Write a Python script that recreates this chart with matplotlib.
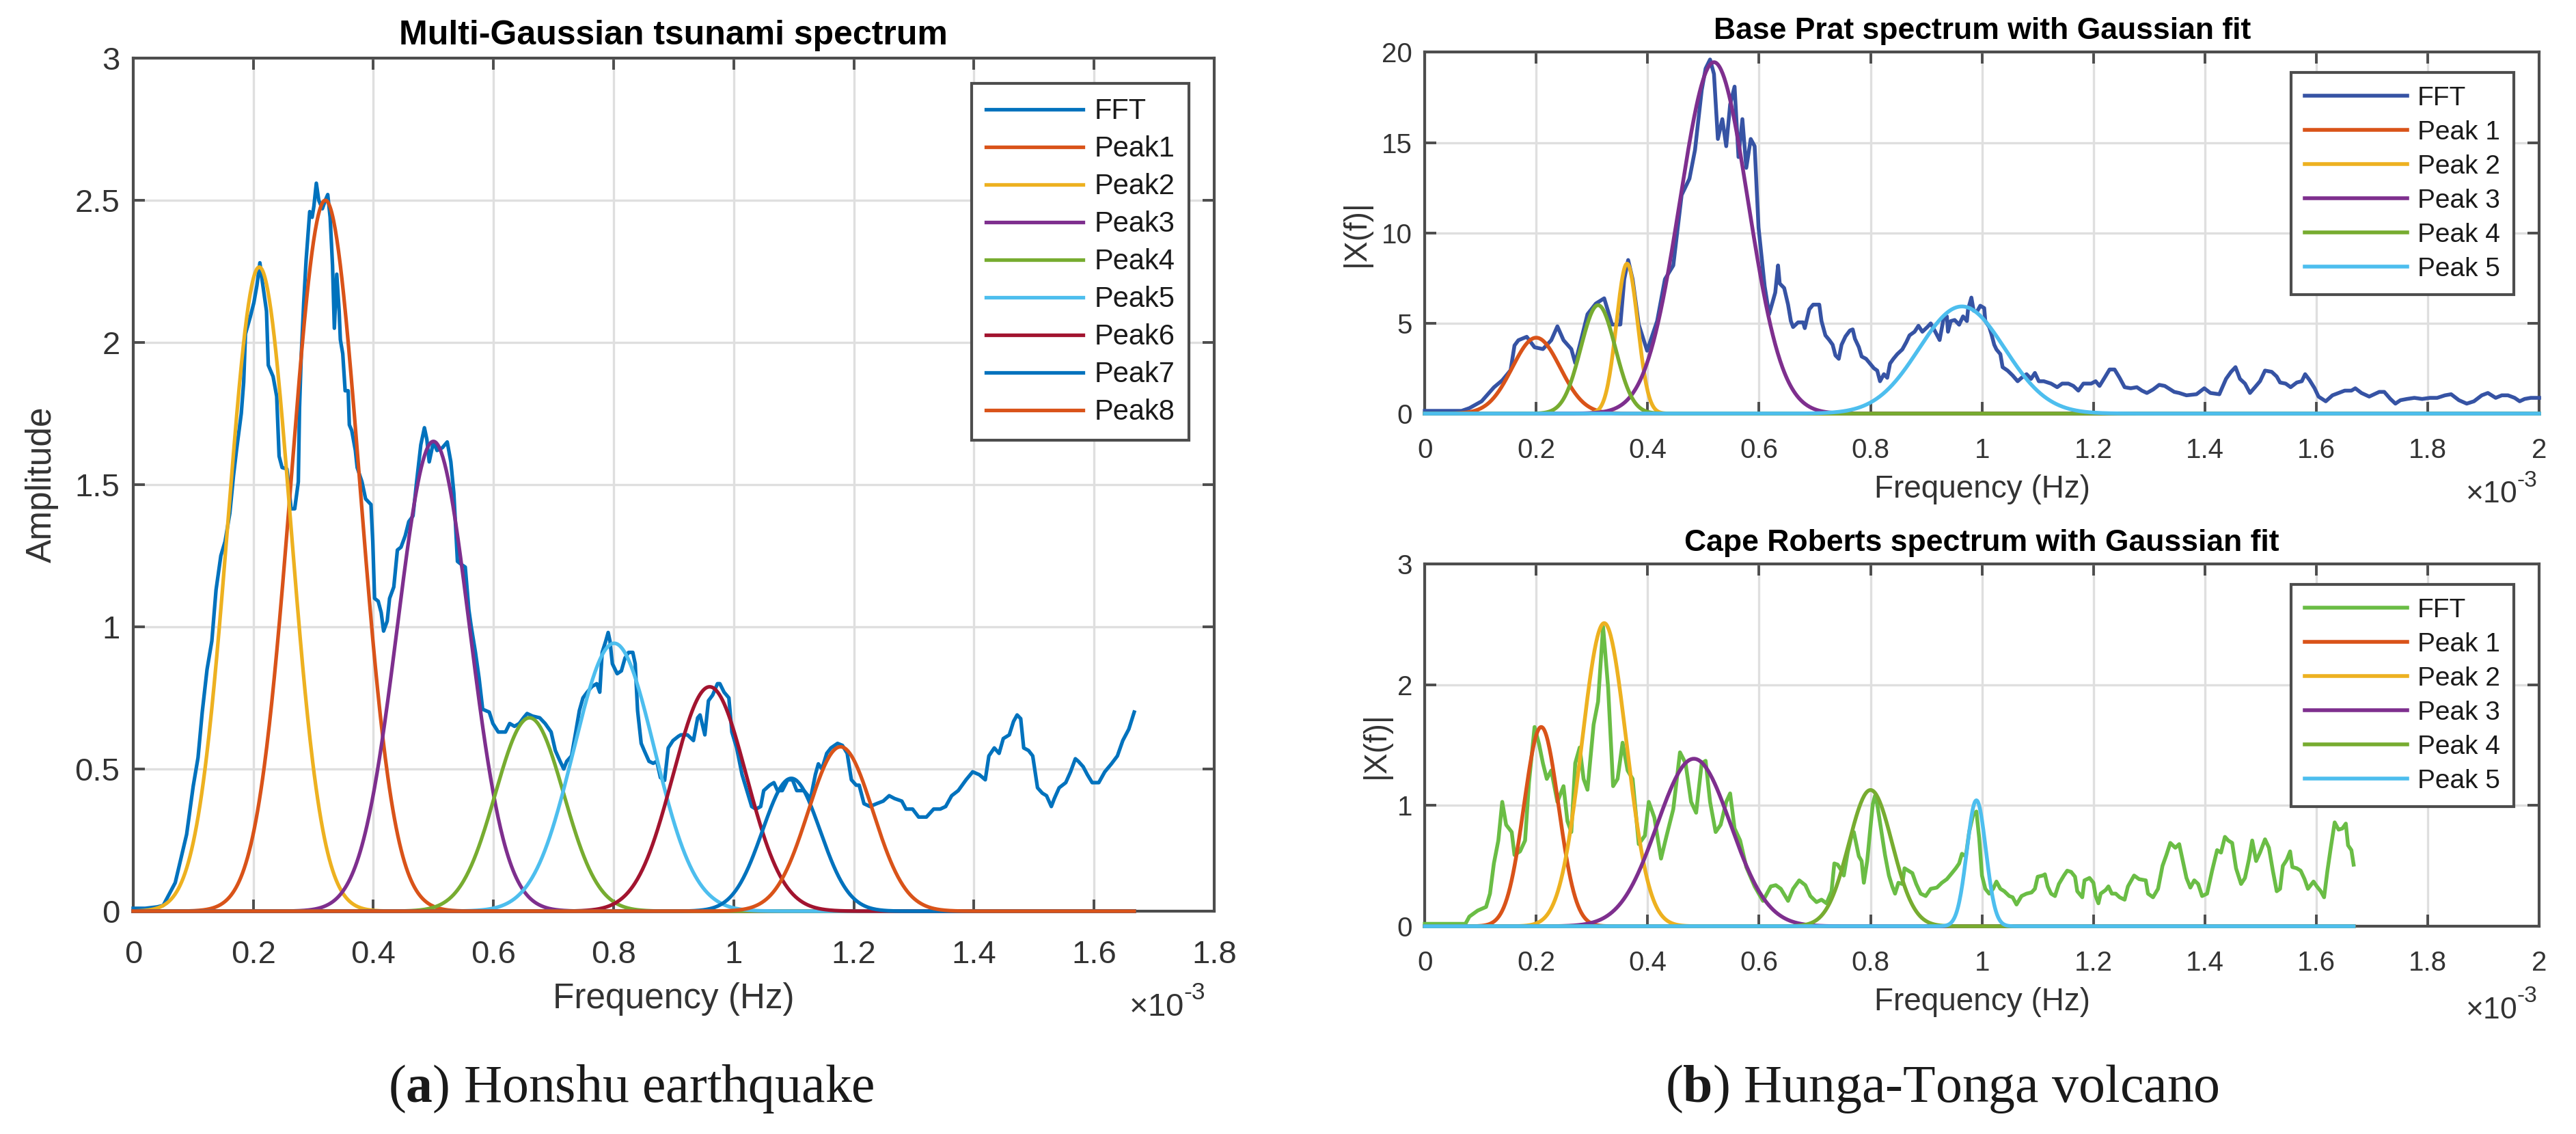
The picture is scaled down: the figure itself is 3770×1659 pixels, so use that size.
import numpy as np
import matplotlib
matplotlib.use('Agg')
import matplotlib.pyplot as plt
from matplotlib.ticker import FuncFormatter

plt.rcParams['font.family'] = ['Liberation Sans', 'DejaVu Sans']
plt.rcParams['mathtext.fontset'] = 'custom'
plt.rcParams['mathtext.rm'] = 'Liberation Sans'
plt.rcParams['mathtext.bf'] = 'Liberation Serif:bold'

# ---- (a) Honshu earthquake: FFT amplitude, frequency in 1e-3 Hz ----
honshu_f = [0.0, 0.02, 0.04, 0.05, 0.07, 0.089, 0.100, 0.108, 0.115, 0.123, 0.131, 0.138, 0.146, 0.153,
            0.161, 0.167, 0.172, 0.180, 0.184, 0.187, 0.195, 0.201, 0.206, 0.211, 0.214, 0.222, 0.225,
            0.233, 0.239, 0.243, 0.248, 0.256, 0.263, 0.269, 0.275, 0.277, 0.280, 0.284, 0.288, 0.294,
            0.298, 0.301, 0.305, 0.309, 0.315, 0.320, 0.324, 0.328, 0.332, 0.335, 0.339, 0.343, 0.345,
            0.349, 0.353, 0.358, 0.360, 0.364, 0.370, 0.373, 0.381, 0.387, 0.396, 0.399, 0.402, 0.408,
            0.413, 0.417, 0.423, 0.427, 0.434, 0.440, 0.446, 0.453, 0.459, 0.466, 0.472,
            0.479, 0.485, 0.489, 0.493, 0.500, 0.506, 0.515, 0.523, 0.529, 0.534, 0.540, 0.546, 0.553,
            0.559, 0.563, 0.570, 0.576, 0.582, 0.593, 0.599, 0.608, 0.620, 0.627, 0.635, 0.643, 0.650,
            0.656, 0.665, 0.677, 0.686, 0.696, 0.703, 0.711, 0.717, 0.722, 0.730, 0.737, 0.743, 0.749,
            0.756, 0.764, 0.772, 0.777, 0.781, 0.787, 0.791, 0.794, 0.798, 0.806, 0.813, 0.819, 0.825,
            0.832, 0.836, 0.840, 0.846, 0.851, 0.859, 0.866, 0.872, 0.878, 0.885, 0.891, 0.899, 0.908,
            0.912, 0.923, 0.933, 0.940, 0.944, 0.952, 0.958, 0.965, 0.973, 0.977, 0.984, 0.992, 0.997,
            1.005, 1.014, 1.022, 1.030, 1.037, 1.045, 1.050, 1.060, 1.067, 1.073, 1.081, 1.090, 1.098,
            1.105, 1.117, 1.128, 1.136, 1.141, 1.147, 1.155, 1.162, 1.173, 1.181, 1.189, 1.196, 1.204,
            1.209, 1.217, 1.227, 1.238, 1.249, 1.259, 1.268, 1.280, 1.287, 1.298, 1.308, 1.321, 1.333,
            1.344, 1.353, 1.363, 1.374, 1.387, 1.398, 1.409, 1.419, 1.425, 1.434, 1.442, 1.449, 1.459,
            1.466, 1.472, 1.478, 1.483, 1.491, 1.498, 1.506, 1.514, 1.521, 1.529, 1.534, 1.542, 1.553,
            1.561, 1.569, 1.574, 1.582, 1.589, 1.597, 1.608, 1.618, 1.629, 1.639, 1.648, 1.658, 1.667]
honshu_amp = [0.01, 0.01, 0.015, 0.02, 0.10, 0.27, 0.44, 0.54, 0.70, 0.85, 0.95, 1.13, 1.25, 1.30,
              1.40, 1.53, 1.62, 1.75, 1.86, 2.03, 2.09, 2.14, 2.20, 2.28, 2.23, 2.11, 1.92,
              1.88, 1.81, 1.60, 1.56, 1.555, 1.415, 1.415, 1.51, 1.77, 1.96, 2.14, 2.29, 2.46,
              2.44, 2.48, 2.56, 2.50, 2.47, 2.50, 2.52, 2.44, 2.27, 2.05, 2.24, 2.11, 2.01,
              1.96, 1.83, 1.83, 1.71, 1.69, 1.62, 1.56, 1.51, 1.45, 1.43, 1.30, 1.10, 1.09,
              1.05, 0.985, 1.02, 1.10, 1.14, 1.27, 1.28, 1.32, 1.37, 1.39, 1.51,
              1.64, 1.70, 1.66, 1.58, 1.65, 1.62, 1.63, 1.65, 1.58, 1.47, 1.23, 1.22, 1.21,
              1.06, 1.00, 0.91, 0.82, 0.71, 0.70, 0.66, 0.63, 0.63, 0.66, 0.65, 0.66, 0.68,
              0.695, 0.686, 0.68, 0.66, 0.63, 0.565, 0.527, 0.50, 0.527, 0.546, 0.63, 0.705, 0.75,
              0.77, 0.79, 0.80, 0.77, 0.91, 0.95, 0.98, 0.95, 0.87, 0.835, 0.845, 0.89, 0.91,
              0.91, 0.87, 0.705, 0.59, 0.565, 0.527, 0.52, 0.527, 0.47, 0.46, 0.574, 0.60, 0.615,
              0.62, 0.62, 0.60, 0.68, 0.69, 0.62, 0.74, 0.76, 0.80, 0.80, 0.77, 0.75, 0.63,
              0.574, 0.48, 0.424, 0.368, 0.359, 0.368, 0.424, 0.443, 0.452, 0.424, 0.424, 0.462, 0.462,
              0.424, 0.424, 0.396, 0.48, 0.518, 0.50, 0.555, 0.574, 0.59, 0.583, 0.555, 0.462, 0.443,
              0.443, 0.378, 0.368, 0.378, 0.387, 0.406, 0.396, 0.387, 0.359, 0.359, 0.331, 0.331, 0.359,
              0.359, 0.368, 0.406, 0.424, 0.462, 0.49, 0.48, 0.462, 0.546, 0.574, 0.555, 0.607, 0.62,
              0.667, 0.69, 0.677, 0.574, 0.565, 0.546, 0.434, 0.415, 0.406, 0.368, 0.396, 0.434, 0.452,
              0.49, 0.536, 0.527, 0.508, 0.48, 0.452, 0.452, 0.49, 0.518, 0.546, 0.60, 0.64, 0.70]
# Gaussian fit parameters (amplitude, centre [1e-3 Hz], sigma [1e-3 Hz]) for Peak1..Peak8
honshu_peak_amp = [2.50, 2.265, 1.652, 0.680, 0.942, 0.789, 0.467, 0.578]
honshu_peak_ctr = [0.320, 0.210, 0.500, 0.660, 0.801, 0.960, 1.096, 1.178]
honshu_peak_sig = [0.057, 0.052, 0.060, 0.057, 0.067, 0.061, 0.048, 0.054]

# ---- (b) Hunga-Tonga: Base Prat ----
prat_f = [0.0, 0.066, 0.08, 0.102, 0.124, 0.139, 0.154, 0.161, 0.168, 0.183, 0.197, 0.212, 0.227, 0.238,
          0.249, 0.263, 0.270, 0.278, 0.292, 0.307, 0.322, 0.336, 0.351, 0.358, 0.365, 0.373, 0.384,
          0.399, 0.417, 0.431, 0.446, 0.461, 0.475, 0.485, 0.497, 0.504, 0.512, 0.519, 0.526, 0.534,
          0.541, 0.548, 0.556, 0.563, 0.570, 0.577, 0.585, 0.592, 0.599, 0.610, 0.618, 0.629,
          0.634, 0.637, 0.645, 0.652, 0.657, 0.661, 0.670, 0.679, 0.682, 0.690, 0.697, 0.708, 0.712,
          0.719, 0.726, 0.732, 0.737, 0.743, 0.748, 0.755, 0.763, 0.768, 0.772, 0.779, 0.784, 0.792,
          0.799, 0.806, 0.812, 0.817, 0.824, 0.830, 0.835, 0.841, 0.848, 0.857, 0.864, 0.870, 0.879,
          0.886, 0.893, 0.902, 0.908, 0.915, 0.924, 0.931, 0.937, 0.939, 0.944, 0.951, 0.959, 0.966,
          0.973, 0.975, 0.981, 0.985, 0.991, 0.997, 1.004, 1.006, 1.013, 1.017, 1.022, 1.026, 1.033,
          1.037, 1.046, 1.055, 1.064, 1.071, 1.080, 1.088, 1.095, 1.102, 1.111, 1.124, 1.135, 1.144,
          1.155, 1.164, 1.173, 1.182, 1.196, 1.204, 1.211, 1.220, 1.229, 1.238, 1.247, 1.256, 1.267,
          1.278, 1.287, 1.296, 1.307, 1.318, 1.328, 1.345, 1.354, 1.367, 1.385, 1.399, 1.410, 1.426,
          1.438, 1.447, 1.455, 1.463, 1.472, 1.481, 1.490, 1.499, 1.508, 1.520, 1.529, 1.535, 1.545,
          1.554, 1.565, 1.574, 1.580, 1.588, 1.597, 1.604, 1.617, 1.629, 1.640, 1.651, 1.663, 1.670,
          1.681, 1.695, 1.704, 1.713, 1.722, 1.733, 1.742, 1.751, 1.763, 1.776, 1.790, 1.804, 1.817,
          1.831, 1.842, 1.856, 1.870, 1.883, 1.897, 1.908, 1.922, 1.933, 1.944, 1.956, 1.965, 1.974,
          1.985, 2.0]
prat_amp = [0.15, 0.15, 0.3, 0.68, 1.45, 1.84, 2.4, 3.77, 4.06, 4.25, 3.67, 3.57, 4.06, 4.83,
            4.06, 3.57, 2.8, 3.77, 5.5, 6.09, 6.38, 4.93, 4.93, 7.44, 8.5, 7.44, 4.93,
            3.48, 5.12, 7.44, 8.2, 12.1, 13.0, 14.6, 17.9, 19.1, 19.6, 18.8, 15.2, 16.3,
            14.8, 17.1, 18.1, 14.2, 16.3, 13.6, 15.2, 14.8, 10.3, 7.05, 5.5, 6.7,
            8.2, 7.2, 6.95, 6.03, 5.12, 4.79, 5.05, 5.05, 4.73, 5.77, 6.03, 6.03, 5.12,
            4.33, 4.07, 3.81, 3.22, 3.03, 3.81, 4.27, 4.6, 4.66, 4.14, 3.68, 3.16, 3.03,
            2.77, 2.51, 2.38, 1.79, 2.18, 1.98, 2.77, 3.03, 3.29, 3.55, 3.94, 4.33, 4.53,
            4.86, 4.53, 4.79, 4.99, 4.6, 4.07, 5.25, 5.38, 4.53, 5.12, 5.18, 4.92, 5.38,
            5.12, 5.77, 6.42, 5.7, 5.64, 5.97, 5.84, 5.12, 4.79, 4.4, 3.81, 3.55, 3.29,
            2.57, 2.38, 2.11, 1.79, 1.98, 2.18, 1.92, 2.25, 1.79, 1.79, 1.66, 1.46, 1.66,
            1.66, 1.53, 1.27, 1.66, 1.66, 1.79, 1.53, 1.98, 2.44, 2.44, 1.98, 1.46, 1.40,
            1.46, 1.27, 1.14, 1.33, 1.59, 1.53, 1.20, 1.14, 1.01, 1.07, 1.40, 1.14, 1.07,
            1.92, 2.31, 2.57, 1.92, 1.66, 1.14, 1.46, 1.79, 2.38, 2.31, 2.05, 1.72, 1.66,
            1.46, 1.72, 1.79, 2.18, 1.85, 1.40, 0.94, 0.68, 1.01, 1.14, 1.27, 1.27, 1.40,
            1.14, 0.94, 1.07, 1.20, 1.20, 0.81, 0.55, 0.74, 0.81, 0.87, 0.81, 0.87, 0.87,
            1.01, 1.07, 0.74, 0.55, 0.68, 1.01, 1.14, 0.87, 1.01, 1.01, 0.87, 0.68, 0.81,
            0.87, 0.87]
prat_peak_amp = [4.2, 8.3, 19.45, 6.0, 5.93]
prat_peak_ctr = [0.200, 0.363, 0.519, 0.311, 0.964]
prat_peak_sig = [0.043, 0.019, 0.061, 0.031, 0.077]

# ---- (b) Hunga-Tonga: Cape Roberts ----
roberts_f = [0.0, 0.073, 0.08, 0.095, 0.11, 0.117, 0.124, 0.132, 0.139, 0.146, 0.156, 0.161, 0.171, 0.180,
             0.187, 0.197, 0.205, 0.212, 0.219, 0.227, 0.238, 0.249, 0.256, 0.263, 0.270, 0.278, 0.285,
             0.292, 0.303, 0.311, 0.320, 0.329, 0.338, 0.346, 0.355, 0.364, 0.373, 0.384, 0.395, 0.402,
             0.412, 0.424, 0.434, 0.446, 0.458, 0.468, 0.478, 0.487, 0.497, 0.504, 0.512, 0.522, 0.531,
             0.541, 0.548, 0.556, 0.566, 0.577, 0.592, 0.607, 0.621,
             0.630, 0.639, 0.648, 0.652, 0.661, 0.672, 0.683, 0.692, 0.703, 0.712, 0.721, 0.730, 0.735,
             0.741, 0.748, 0.752, 0.759, 0.766, 0.770, 0.775, 0.779, 0.784, 0.788, 0.794, 0.799, 0.804,
             0.808, 0.812, 0.819, 0.826, 0.833, 0.839, 0.844, 0.850, 0.857, 0.861, 0.868, 0.875, 0.882,
             0.890, 0.899, 0.908, 0.919, 0.928, 0.937, 0.946, 0.953, 0.959, 0.964, 0.971, 0.977, 0.984,
             0.990, 0.995, 1.000, 1.006, 1.013, 1.020, 1.026, 1.033, 1.040, 1.049, 1.055, 1.062, 1.071,
             1.080, 1.089, 1.095, 1.100, 1.109, 1.113, 1.118, 1.124, 1.131, 1.138, 1.147, 1.153, 1.160,
             1.167, 1.171, 1.180, 1.184, 1.193, 1.200, 1.204, 1.209, 1.213, 1.222, 1.227, 1.233, 1.240,
             1.247, 1.256, 1.262, 1.273, 1.282, 1.294, 1.298, 1.307, 1.316,
             1.324, 1.331, 1.338, 1.347, 1.354, 1.360, 1.367, 1.374, 1.381, 1.388, 1.395, 1.404, 1.413,
             1.422, 1.429, 1.436, 1.442, 1.449, 1.456, 1.465, 1.472, 1.479, 1.485, 1.492, 1.499, 1.508,
             1.515, 1.522, 1.529, 1.535, 1.540, 1.547, 1.553, 1.557, 1.565, 1.572, 1.579, 1.585, 1.595,
             1.601, 1.608, 1.614, 1.620, 1.626, 1.633, 1.640, 1.647, 1.653, 1.657, 1.663, 1.667]
roberts_amp = [0.02, 0.02, 0.08, 0.13, 0.16, 0.27, 0.52, 0.71, 1.03, 0.84, 0.78, 0.59, 0.62, 0.71,
               1.19, 1.65, 1.51, 1.35, 1.22, 1.29, 1.03, 1.16, 0.87, 0.78, 1.35, 1.48, 1.22,
               1.13, 1.67, 1.86, 2.48, 1.98, 1.16, 1.22, 1.52, 1.29, 1.22, 0.68, 0.75, 1.03,
               0.90, 0.56, 0.75, 0.97, 1.44, 1.35, 1.03, 0.94, 1.35, 1.37, 1.03, 0.78, 0.84,
               1.03, 1.10, 0.81, 0.71, 0.49, 0.33, 0.21, 0.33,
               0.34, 0.31, 0.24, 0.21, 0.31, 0.38, 0.34, 0.25, 0.20, 0.22, 0.19, 0.29, 0.52,
               0.51, 0.46, 0.42, 0.61, 0.75, 0.78, 0.67, 0.58, 0.54, 0.36, 0.54, 0.78, 1.01,
               1.08, 1.01, 0.80, 0.59, 0.42, 0.33, 0.27, 0.36, 0.35, 0.48, 0.46, 0.44, 0.35,
               0.27, 0.25, 0.31, 0.32, 0.36, 0.39, 0.44, 0.48, 0.52, 0.60, 0.58, 0.78, 0.92,
               0.95, 0.73, 0.42, 0.31, 0.27, 0.31, 0.37, 0.31, 0.29, 0.25, 0.24, 0.18, 0.25,
               0.27, 0.28, 0.31, 0.41, 0.42, 0.43, 0.33, 0.27, 0.25, 0.35, 0.42, 0.46, 0.45,
               0.41, 0.29, 0.24, 0.38, 0.40, 0.36, 0.25, 0.19, 0.27, 0.30, 0.33, 0.27, 0.27,
               0.24, 0.22, 0.33, 0.42, 0.39, 0.38, 0.27, 0.24, 0.31,
               0.50, 0.59, 0.69, 0.65, 0.68, 0.55, 0.40, 0.32, 0.38, 0.35, 0.25, 0.27, 0.46,
               0.63, 0.61, 0.74, 0.71, 0.69, 0.48, 0.35, 0.40, 0.55, 0.71, 0.54, 0.61, 0.72,
               0.65, 0.46, 0.29, 0.31, 0.50, 0.55, 0.62, 0.49, 0.48, 0.46, 0.39, 0.31, 0.37,
               0.33, 0.29, 0.24, 0.46, 0.65, 0.86, 0.80, 0.81, 0.85, 0.67, 0.63, 0.51]
roberts_peak_amp = [1.65, 2.51, 1.387, 1.128, 1.043]
roberts_peak_ctr = [0.209, 0.322, 0.483, 0.800, 0.990]
roberts_peak_sig = [0.031, 0.040, 0.066, 0.039, 0.017]

c_blue, c_orange, c_yellow = '#0072BD', '#D95319', '#EDB120'
c_purple, c_green, c_cyan, c_red = '#7E2F8E', '#77AC30', '#4DBEEE', '#A2142F'
honshu_colors = [c_orange, c_yellow, c_purple, c_green, c_cyan, c_red, c_blue, c_orange]
tonga_colors = [c_orange, c_yellow, c_purple, c_green, c_cyan]
txt_col = '#333333'


def gauss(f, a, c, s):
    return a * np.exp(-(f - c) ** 2 / (2 * s ** 2))


def style(ax, xmax, ymax, yticks, xpad, ypad, fs):
    ax.set_xlim(0, xmax)
    ax.set_ylim(0, ymax)
    ax.set_xticks(np.arange(0, xmax + 1e-9, 0.2))
    ax.set_yticks(yticks)
    fmt = FuncFormatter(lambda v, p: '%g' % round(v, 3))
    ax.xaxis.set_major_formatter(fmt)
    ax.yaxis.set_major_formatter(fmt)
    ax.grid(True, color='#dfdfdf', lw=1.2)
    ax.set_axisbelow(True)
    ax.tick_params(direction='in', length=6, width=1.4, top=True, right=True,
                   colors='#4d4d4d', labelcolor=txt_col, labelsize=fs)
    ax.tick_params(axis='x', pad=xpad)
    ax.tick_params(axis='y', pad=ypad)
    for sp in ax.spines.values():
        sp.set_color('#4d4d4d')
        sp.set_linewidth(1.5)


def sci(ax, x, y, fs):
    t = ax.text(x, y, r'$\times$10', transform=ax.transAxes, ha='right', va='center',
                fontsize=fs, color=txt_col)
    ax.annotate('-3', xy=(1.0, 0.62), xycoords=t, ha='left', va='bottom', fontsize=fs * 0.75,
                color=txt_col)


def legend(ax, y, fs, hl, ls):
    leg = ax.legend(loc='upper right', bbox_to_anchor=(0.977, y), fontsize=fs, handlelength=hl,
                    labelspacing=ls, fancybox=False, framealpha=1, edgecolor='#4d4d4d',
                    borderpad=0.5, handletextpad=0.4, borderaxespad=0)
    leg.get_frame().set_linewidth(1.5)
    for txt in leg.get_texts():
        txt.set_color('#1a1a1a')


fig = plt.figure(figsize=(18.85, 8.295), dpi=200)
ax1 = fig.add_axes([0.0517, 0.1965, 0.4196, 0.7523])
ax2 = fig.add_axes([0.5531, 0.6353, 0.4326, 0.3186])
ax3 = fig.add_axes([0.5531, 0.1832, 0.4326, 0.3195])

# panel (a)
fa = np.linspace(0, max(honshu_f), 1200)
ax1.plot(honshu_f, honshu_amp, color=c_blue, lw=1.9, label='FFT', clip_on=False, zorder=3)
for i in range(8):
    ax1.plot(fa, gauss(fa, honshu_peak_amp[i], honshu_peak_ctr[i], honshu_peak_sig[i]),
             color=honshu_colors[i], lw=1.9, label='Peak%d' % (i + 1), clip_on=False, zorder=3)
style(ax1, 1.8, 3, [0, 0.5, 1, 1.5, 2, 2.5, 3], 15, 7, 17)
ax1.set_title('Multi-Gaussian tsunami spectrum', fontsize=18, fontweight='bold', pad=7)
ax1.set_xlabel('Frequency (Hz)', fontsize=18.5, color=txt_col)
ax1.xaxis.set_label_coords(0.5, -0.083)
ax1.set_ylabel('Amplitude', fontsize=18.5, color=txt_col)
ax1.yaxis.set_label_coords(-0.069, 0.5)
sci(ax1, 0.972, -0.113, 17)
legend(ax1, 0.97, 15, 3.4, 0.36)

# panel (b) top
fb = np.linspace(0, max(prat_f), 1400)
ax2.plot(prat_f, prat_amp, color='#3653A4', lw=2.0, label='FFT', clip_on=False, zorder=3)
for i in range(5):
    ax2.plot(fb, gauss(fb, prat_peak_amp[i], prat_peak_ctr[i], prat_peak_sig[i]),
             color=tonga_colors[i], lw=2.0, label='Peak %d' % (i + 1), clip_on=False, zorder=3)
style(ax2, 2, 20, [0, 5, 10, 15, 20], 12.5, 6.5, 14.5)
ax2.set_title('Base Prat spectrum with Gaussian fit', fontsize=16, fontweight='bold', pad=7)
ax2.set_xlabel('Frequency (Hz)', fontsize=16.5, color=txt_col)
ax2.xaxis.set_label_coords(0.5, -0.168)
ax2.set_ylabel('|X(f)|', fontsize=16.5, color=txt_col)
ax2.yaxis.set_label_coords(-0.048, 0.5)
sci(ax2, 0.980, -0.225, 16)
legend(ax2, 0.944, 14, 3.85, 0.36)

# panel (b) bottom
fc = np.linspace(0, max(roberts_f), 1200)
ax3.plot(roberts_f, roberts_amp, color='#6ABD45', lw=2.0, label='FFT', clip_on=False, zorder=3)
for i in range(5):
    ax3.plot(fc, gauss(fc, roberts_peak_amp[i], roberts_peak_ctr[i], roberts_peak_sig[i]),
             color=tonga_colors[i], lw=2.0, label='Peak %d' % (i + 1), clip_on=False, zorder=3)
style(ax3, 2, 3, [0, 1, 2, 3], 12.5, 6.5, 14.5)
ax3.set_title('Cape Roberts spectrum with Gaussian fit', fontsize=16, fontweight='bold', pad=7)
ax3.set_xlabel('Frequency (Hz)', fontsize=16.5, color=txt_col)
ax3.xaxis.set_label_coords(0.5, -0.168)
ax3.set_ylabel('|X(f)|', fontsize=16.5, color=txt_col)
ax3.yaxis.set_label_coords(-0.030, 0.5)
sci(ax3, 0.980, -0.232, 16)
legend(ax3, 0.943, 14, 3.85, 0.36)

fig.text(0.245, 0.040, r'($\mathbf{a}$) Honshu earthquake', family='Liberation Serif',
         fontsize=28, ha='center', va='center', color='#1a1a1a')
fig.text(0.754, 0.040, r'($\mathbf{b}$) Hunga-Tonga volcano', family='Liberation Serif',
         fontsize=28, ha='center', va='center', color='#1a1a1a')

fig.savefig('out.png', dpi=200, facecolor='white')
